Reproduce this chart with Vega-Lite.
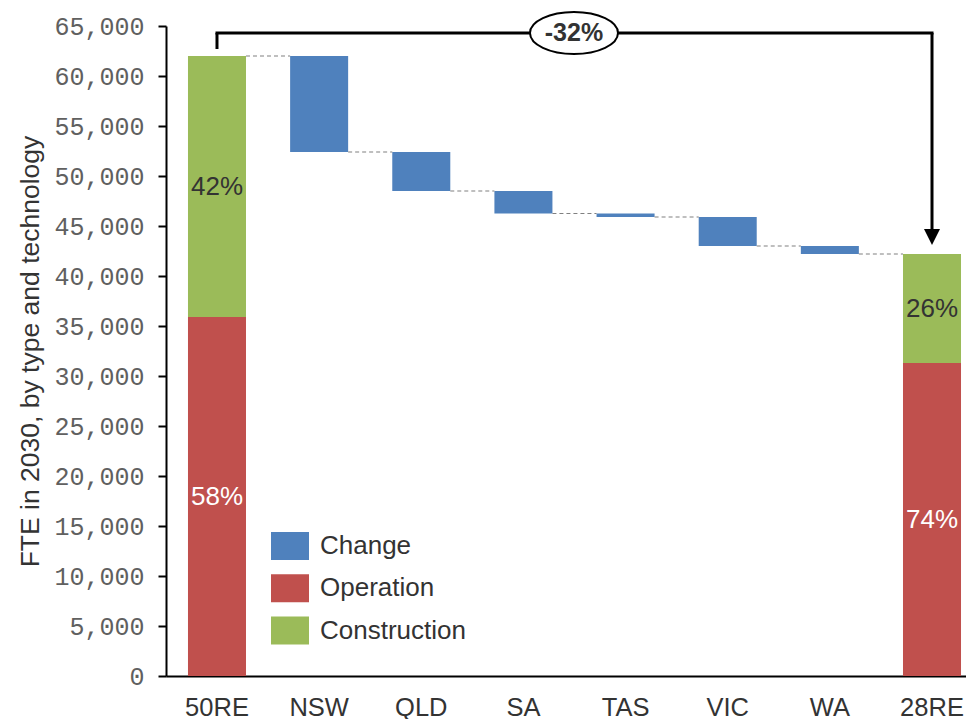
{
  "$schema": "https://vega.github.io/schema/vega-lite/v6.json",
  "width": 800,
  "height": 650,
  "autosize": {"type": "none"},
  "padding": {"left": 166, "top": 26, "right": 0, "bottom": 43},
  "config": {"view": {"stroke": null}, "font": "Liberation Sans"},
  "datasets": {
    "bars": [
      {"cat": "50RE", "type": "Operation", "low": 0, "high": 35900, "label": "58%"},
      {"cat": "50RE", "type": "Construction", "low": 35900, "high": 62000, "label": "42%"},
      {"cat": "NSW", "type": "Change", "low": 52400, "high": 62000},
      {"cat": "QLD", "type": "Change", "low": 48500, "high": 52400},
      {"cat": "SA", "type": "Change", "low": 46250, "high": 48500},
      {"cat": "TAS", "type": "Change", "low": 45900, "high": 46250},
      {"cat": "VIC", "type": "Change", "low": 43000, "high": 45900},
      {"cat": "WA", "type": "Change", "low": 42200, "high": 43000},
      {"cat": "28RE", "type": "Operation", "low": 0, "high": 31300, "label": "74%"},
      {"cat": "28RE", "type": "Construction", "low": 31300, "high": 42200, "label": "26%"}
    ],
    "links": [
      {"from": "50RE", "to": "NSW", "level": 62000},
      {"from": "NSW", "to": "QLD", "level": 52400},
      {"from": "QLD", "to": "SA", "level": 48500},
      {"from": "SA", "to": "TAS", "level": 46250},
      {"from": "TAS", "to": "VIC", "level": 45900},
      {"from": "VIC", "to": "WA", "level": 43000},
      {"from": "WA", "to": "28RE", "level": 42200}
    ],
    "bracket": [
      {"from": "50RE", "to": "28RE", "start": 62000, "end": 42200, "label": "-32%"}
    ]
  },
  "layer": [
    {
      "data": {"name": "bars"},
      "mark": {"type": "bar"},
      "encoding": {
        "x": {
          "field": "cat",
          "type": "nominal",
          "title": null,
          "scale": {
            "domain": ["50RE", "NSW", "QLD", "SA", "TAS", "VIC", "WA", "28RE"],
            "paddingInner": 0.432,
            "paddingOuter": 0.132,
            "align": 0.815
          },
          "axis": {
            "labelAngle": 0,
            "labelFont": "Liberation Sans",
            "labelFontSize": 25.5,
            "labelColor": "#333333",
            "labelPadding": 19,
            "ticks": false,
            "domainColor": "#000000",
            "domainWidth": 2
          }
        },
        "y": {
          "field": "low",
          "type": "quantitative",
          "scale": {"domain": [0, 65000], "nice": false},
          "axis": {
            "values": [0, 5000, 10000, 15000, 20000, 25000, 30000, 35000, 40000, 45000, 50000, 55000, 60000, 65000],
            "format": ",.0f",
            "grid": false,
            "labelFont": "Liberation Mono",
            "labelFontSize": 25,
            "labelColor": "#606060",
            "labelPadding": 14,
            "tickSize": 8,
            "tickWidth": 2,
            "tickColor": "#000000",
            "domainColor": "#000000",
            "domainWidth": 2,
            "title": "FTE in 2030, by type and technology",
            "titleFont": "Liberation Sans",
            "titleFontSize": 26.5,
            "titleFontWeight": "normal",
            "titleColor": "#333333",
            "titlePadding": 9
          }
        },
        "y2": {"field": "high"},
        "color": {
          "field": "type",
          "type": "nominal",
          "scale": {
            "domain": ["Change", "Operation", "Construction"],
            "range": ["#4F81BD", "#C0504D", "#9BBB59"]
          },
          "legend": {
            "title": null,
            "orient": "none",
            "legendX": 105,
            "legendY": 501,
            "symbolType": "M-1,-0.737H1V0.737H-1Z",
            "symbolSize": 1444,
            "symbolStrokeWidth": 0,
            "symbolOpacity": 1,
            "labelFont": "Liberation Sans",
            "labelFontSize": 26,
            "labelColor": "#333333",
            "labelOffset": 11,
            "rowPadding": 8.3
          }
        }
      }
    },
    {
      "data": {"name": "links"},
      "mark": {"type": "rule", "strokeDash": [4, 3], "color": "#808080", "strokeWidth": 1.2, "xOffset": 29, "x2Offset": -29},
      "encoding": {
        "x": {"field": "from", "type": "nominal"},
        "x2": {"field": "to"},
        "y": {"field": "level", "type": "quantitative"}
      }
    },
    {
      "data": {"name": "bars"},
      "transform": [
        {"filter": "datum.label"},
        {"calculate": "(datum.low + datum.high) / 2", "as": "mid"}
      ],
      "mark": {"type": "text", "fontSize": 26, "baseline": "middle", "align": "center", "font": "Liberation Sans"},
      "encoding": {
        "x": {"field": "cat", "type": "nominal"},
        "y": {"field": "mid", "type": "quantitative"},
        "text": {"field": "label"},
        "color": {"condition": {"test": "datum.type === 'Operation'", "value": "#ffffff"}, "value": "#333333"}
      }
    },
    {
      "data": {"name": "bracket"},
      "mark": {"type": "rule", "color": "#000000", "strokeWidth": 3, "yOffset": -7, "y2Offset": -23},
      "encoding": {
        "x": {"field": "from", "type": "nominal"},
        "y": {"field": "start", "type": "quantitative"},
        "y2": {"field": "start"}
      }
    },
    {
      "data": {"name": "bracket"},
      "mark": {"type": "rule", "color": "#000000", "strokeWidth": 3, "strokeCap": "square", "yOffset": -23},
      "encoding": {
        "x": {"field": "from", "type": "nominal"},
        "x2": {"field": "to"},
        "y": {"field": "start", "type": "quantitative"}
      }
    },
    {
      "data": {"name": "bracket"},
      "mark": {"type": "rule", "color": "#000000", "strokeWidth": 3, "yOffset": -23, "y2Offset": -22},
      "encoding": {
        "x": {"field": "to", "type": "nominal"},
        "y": {"field": "start", "type": "quantitative"},
        "y2": {"field": "end"}
      }
    },
    {
      "data": {"name": "bracket"},
      "mark": {"type": "point", "shape": "M-1,-1L1,-1L0,1Z", "size": 256, "filled": true, "color": "#000000", "opacity": 1, "yOffset": -17},
      "encoding": {
        "x": {"field": "to", "type": "nominal"},
        "y": {"field": "end", "type": "quantitative"}
      }
    },
    {
      "data": {"name": "bracket"},
      "mark": {"type": "point", "shape": "M-1,0A1,0.477,0,1,1,1,0A1,0.477,0,1,1,-1,0Z", "size": 7744, "filled": true, "fill": "#ffffff", "stroke": "#000000", "strokeWidth": 2, "opacity": 1, "xOffset": 357, "yOffset": -23},
      "encoding": {
        "x": {"field": "from", "type": "nominal"},
        "y": {"field": "start", "type": "quantitative"}
      }
    },
    {
      "data": {"name": "bracket"},
      "mark": {"type": "text", "fontSize": 25, "fontWeight": "bold", "font": "Liberation Sans", "color": "#333333", "baseline": "middle", "align": "center", "xOffset": 357, "yOffset": -23},
      "encoding": {
        "x": {"field": "from", "type": "nominal"},
        "y": {"field": "start", "type": "quantitative"},
        "text": {"field": "label"}
      }
    }
  ]
}
